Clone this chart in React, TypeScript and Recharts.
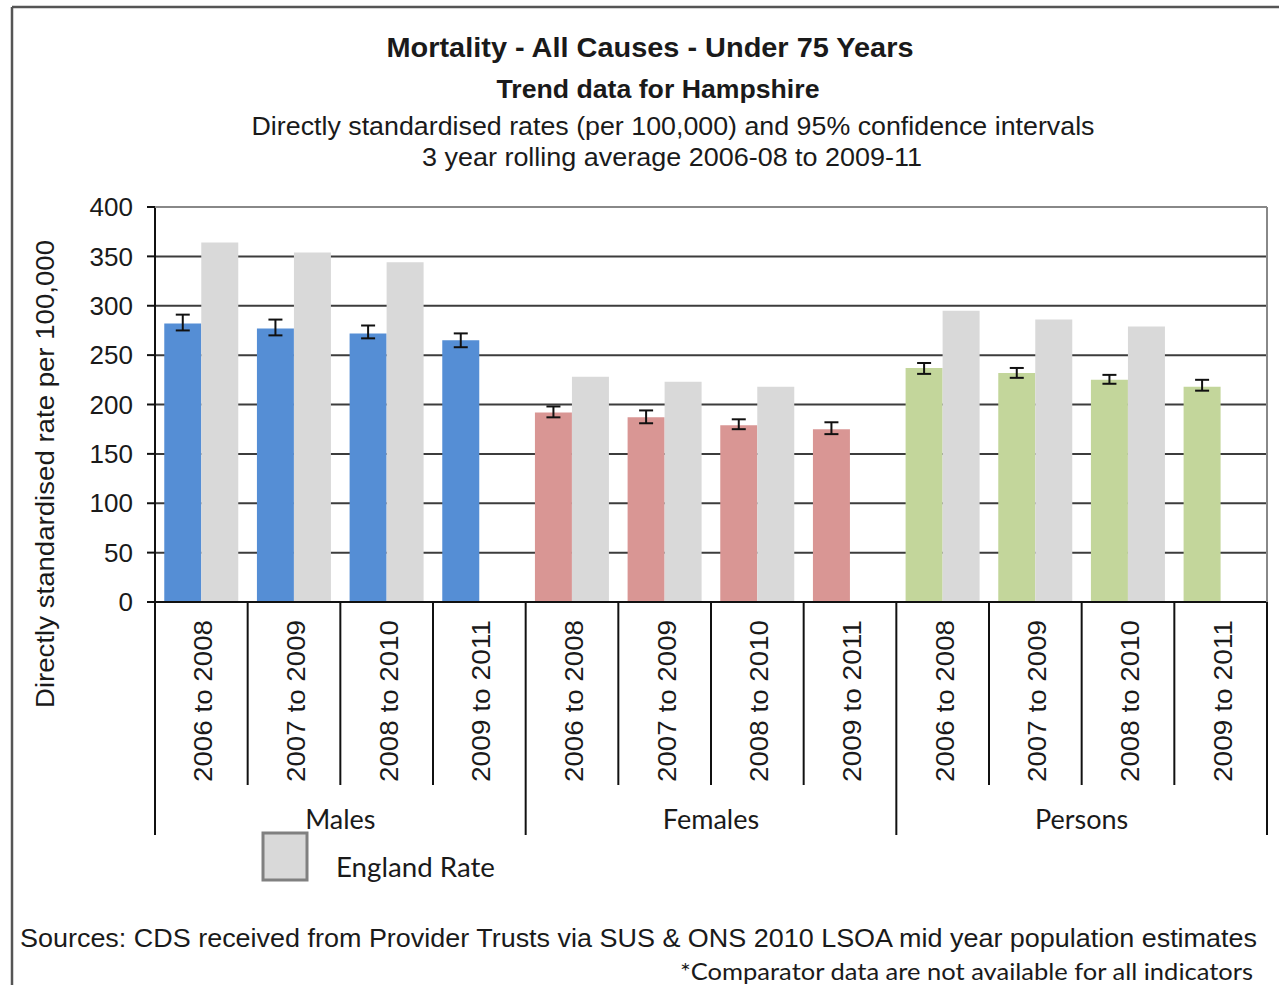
import { BarChart, Bar, XAxis, YAxis, CartesianGrid, Cell, ErrorBar } from 'recharts'

const periods = ['2006 to 2008', '2007 to 2009', '2008 to 2010', '2009 to 2011']
const groups = ['Males', 'Females', 'Persons']

const maleRate = [282, 277, 272, 265]
const maleCI = [[275, 291], [270, 286], [267, 280], [258, 272]]
const femaleRate = [192, 187, 179, 175]
const femaleCI = [[187, 198], [181, 194], [175, 185], [170, 182]]
const personRate = [237, 232, 225, 218]
const personCI = [[231, 242], [227, 237], [221, 230], [214, 225]]

const englandMale = [364, 354, 344, null]
const englandFemale = [228, 223, 218, null]
const englandPerson = [295, 286, 279, null]

const yTicks = [0, 50, 100, 150, 200, 250, 300, 350, 400]

const GROUP_COLORS = ['#558ED5', '#D99694', '#C3D69B']
const ENGLAND_COLOR = '#D9D9D9'

const W = 1279
const H = 985
const PLOT_LEFT = 155
const PLOT_RIGHT = 1267
const PLOT_TOP = 207
const PLOT_BOTTOM = 602
const BAND = (PLOT_RIGHT - PLOT_LEFT) / 12

const ARIAL = '"Liberation Sans", Arial, sans-serif'
const CALIBRI = 'Lato, "Open Sans", sans-serif'

const rates = [maleRate, femaleRate, personRate]
const cis = [maleCI, femaleCI, personCI]
const england = [englandMale, englandFemale, englandPerson]

const data = groups.flatMap((g, gi) =>
  periods.map((p, pi) => ({
    key: `${g}-${p}`,
    period: p,
    group: g,
    gi,
    rate: rates[gi][pi],
    err: [rates[gi][pi] - cis[gi][pi][0], cis[gi][pi][1] - rates[gi][pi]],
    england: england[gi][pi],
  }))
)

function PeriodTick(props: any) {
  const { x, index } = props
  const item = data[index]
  const left = x - BAND / 2
  const isGroupStart = index % 4 === 0
  const isLast = index === data.length - 1
  return (
    <g>
      <line
        x1={left}
        x2={left}
        y1={PLOT_BOTTOM}
        y2={isGroupStart ? 835 : 785}
        stroke="#111"
        strokeWidth={2}
      />
      {isLast && (
        <line x1={x + BAND / 2} x2={x + BAND / 2} y1={PLOT_BOTTOM} y2={835} stroke="#111" strokeWidth={2} />
      )}
      <text
        x={x + 2}
        y={620}
        transform={`rotate(-90, ${x + 2}, 620)`}
        textAnchor="end"
        dominantBaseline="central"
        fontFamily={ARIAL}
        fontSize={26}
        fill="#1a1a1a"
        textLength={162}
        lengthAdjust="spacingAndGlyphs"
      >
        {item.period}
      </text>
      {index % 4 === 1 && (
        <text
          x={x + BAND / 2}
          y={818}
          textAnchor="middle"
          dominantBaseline="central"
          fontFamily={CALIBRI}
          fontSize={27}
          fill="#1a1a1a"
        >
          {item.group}
        </text>
      )}
    </g>
  )
}

export default function App() {
  return (
    <div style={{ position: 'absolute', left: 0, top: 0, width: W, height: H, background: '#fff' }}>
      <BarChart
        width={W}
        height={H}
        data={data}
        margin={{ top: PLOT_TOP, right: W - PLOT_RIGHT, bottom: 143, left: 95 }}
        barCategoryGap="10%"
        barGap={0}
      >
        <CartesianGrid vertical={false} stroke="#3c3c3c" strokeWidth={2} />
        <XAxis
          dataKey="key"
          interval={0}
          height={240}
          tickLine={false}
          axisLine={{ stroke: '#111', strokeWidth: 2 }}
          tick={<PeriodTick />}
        />
        <YAxis
          width={60}
          domain={[0, 400]}
          ticks={yTicks}
          tickSize={8}
          tickMargin={14}
          axisLine={{ stroke: '#111', strokeWidth: 2 }}
          tickLine={{ stroke: '#111', strokeWidth: 2 }}
          tick={{ fontFamily: ARIAL, fontSize: 26, fill: '#1a1a1a' }}
        />
        <Bar dataKey="rate" isAnimationActive={false}>
          {data.map((d) => (
            <Cell key={d.key} fill={GROUP_COLORS[d.gi]} />
          ))}
          <ErrorBar dataKey="err" width={7} stroke="#111" strokeWidth={2} />
        </Bar>
        <Bar dataKey="england" fill={ENGLAND_COLOR} isAnimationActive={false} />
      </BarChart>

      <svg
        width={W}
        height={H}
        style={{ position: 'absolute', left: 0, top: 0, pointerEvents: 'none' }}
      >
        {/* outer frame */}
        <line x1={12} y1={7} x2={W} y2={7} stroke="#555" strokeWidth={2.5} />
        <line x1={12} y1={7} x2={12} y2={H} stroke="#555" strokeWidth={2.5} />

        {/* plot border top/right */}
        <line x1={PLOT_LEFT} y1={PLOT_TOP} x2={PLOT_RIGHT} y2={PLOT_TOP} stroke="#888" strokeWidth={2} />
        <line x1={PLOT_RIGHT} y1={PLOT_TOP} x2={PLOT_RIGHT} y2={PLOT_BOTTOM} stroke="#888" strokeWidth={2} />

        {/* titles */}
        <text x={650} y={47} textAnchor="middle" dominantBaseline="central" fontFamily={ARIAL}
          fontWeight="bold" fontSize={28} fill="#1a1a1a" textLength={527} lengthAdjust="spacingAndGlyphs">
          Mortality - All Causes - Under 75 Years
        </text>
        <text x={658} y={89} textAnchor="middle" dominantBaseline="central" fontFamily={ARIAL}
          fontWeight="bold" fontSize={25} fill="#1a1a1a" textLength={323} lengthAdjust="spacingAndGlyphs">
          Trend data for Hampshire
        </text>
        <text x={673} y={126} textAnchor="middle" dominantBaseline="central" fontFamily={ARIAL}
          fontSize={25} fill="#1a1a1a" textLength={843} lengthAdjust="spacingAndGlyphs">
          Directly standardised rates (per 100,000) and 95% confidence intervals
        </text>
        <text x={672} y={157} textAnchor="middle" dominantBaseline="central" fontFamily={ARIAL}
          fontSize={25} fill="#1a1a1a" textLength={500} lengthAdjust="spacingAndGlyphs">
          3 year rolling average 2006-08 to 2009-11
        </text>

        {/* y axis label */}
        <text x={45} y={474} transform="rotate(-90, 45, 474)" textAnchor="middle" dominantBaseline="central"
          fontFamily={ARIAL} fontSize={26} fill="#1a1a1a" textLength={468} lengthAdjust="spacingAndGlyphs">
          Directly standardised rate per 100,000
        </text>

        {/* legend */}
        <rect x={263} y={833} width={44} height={47} fill={ENGLAND_COLOR} stroke="#808080" strokeWidth={3} />
        <text x={336} y={866} dominantBaseline="central" fontFamily={CALIBRI} fontSize={27} fill="#1a1a1a"
          textLength={159} lengthAdjust="spacingAndGlyphs">
          England Rate
        </text>

        {/* footer */}
        <text x={20} y={938} dominantBaseline="central" fontFamily={ARIAL} fontSize={25} fill="#1a1a1a"
          textLength={1237} lengthAdjust="spacingAndGlyphs">
          Sources: CDS received from Provider Trusts via SUS &amp; ONS 2010 LSOA mid year population  estimates
        </text>
        <text x={1253} y={970} textAnchor="end" dominantBaseline="central" fontFamily={CALIBRI} fontSize={24}
          fill="#1a1a1a" textLength={573} lengthAdjust="spacingAndGlyphs">
          *Comparator data are not available for all indicators
        </text>
      </svg>
    </div>
  )
}
